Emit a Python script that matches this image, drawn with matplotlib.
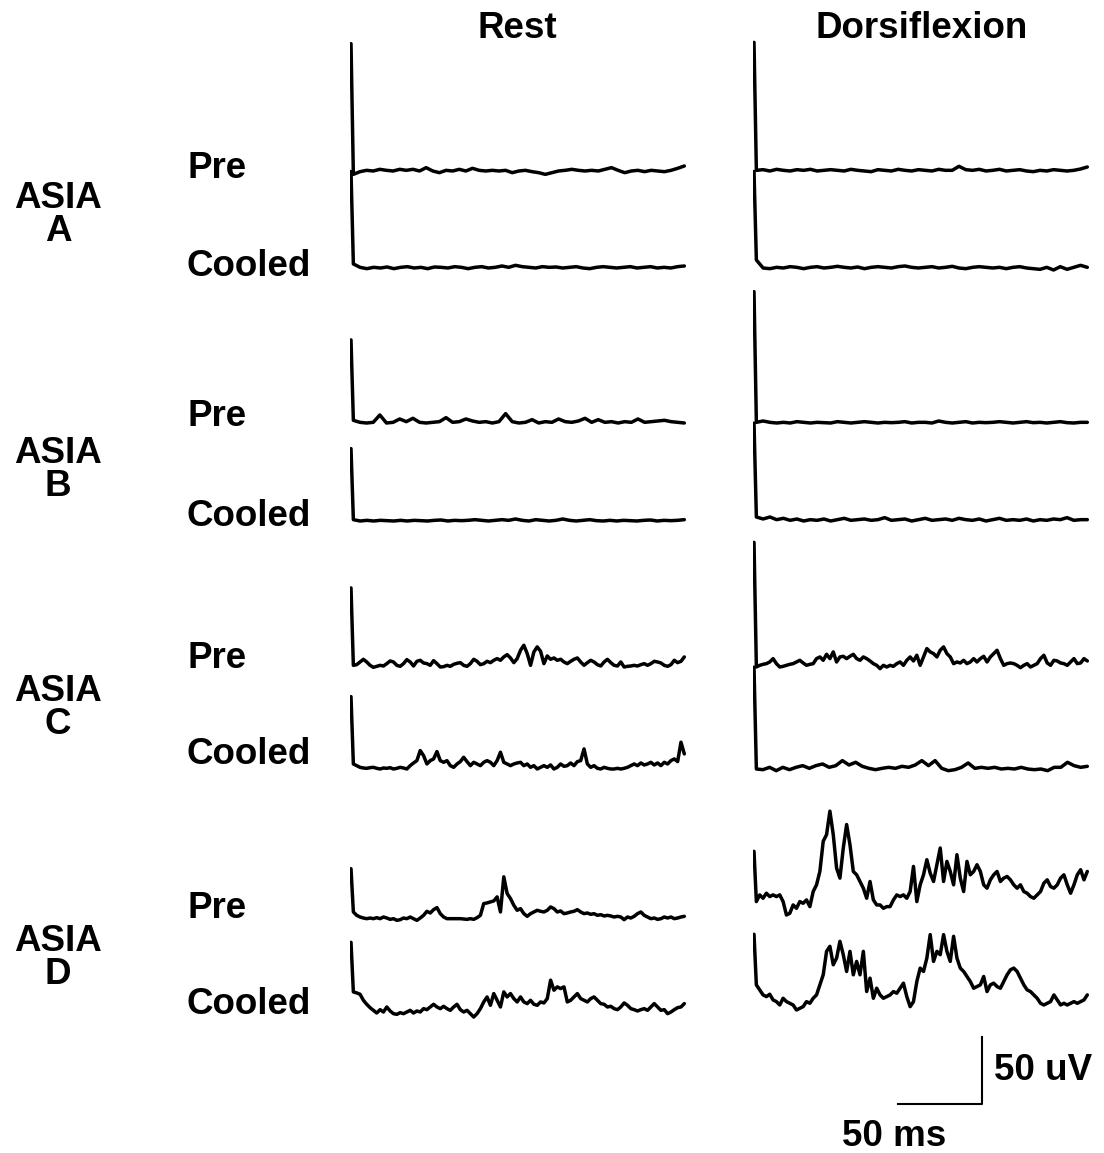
import numpy as np
import matplotlib
matplotlib.use("Agg")
import matplotlib.pyplot as plt

# EMG traces, amplitudes in uV above each trace's baseline.
# Each trace: stimulus artifact height, then samples spread over 2..199 ms.

rows = ["A", "B", "C", "D"]
columns = ["Rest", "Dorsiflexion"]
conditions = ["Pre", "Cooled"]

# artifact heights (uV), order: A pre, A cooled, B pre, B cooled, ... D cooled
rest_artifact = [95, 72, 62, 54, 59, 54, 36, 52]
dorsi_artifact = [96, 72, 98, 73, 93, 76, 49, 58]

rest_a_pre = [-2.5, -0.5, 0.5, 0, 1.25, 0.5, 0, 1.25, 0.5, 1.25, 0, 2.5, 0, -1.25, 0.5, 0,
              1.25, 0, 2, 0.5, 0, 0.5, 0, 0.5, -1.25, 0, 0.5, -0.5, -1.25, -2.5, -1.25, 0,
              0.5, 1.25, 0.5, 0, 0.5, 0, 1.25, 2.5, 0.5, -1.25, 0, 0.5, -0.5, 0.5, 0, -0.5,
              0.5, 2, 3.75]
rest_a_cooled = [3, 0.5, -0.5, 0.5, 0, 0.75, -0.5, 0.5, 1, 0, 0.5, -0.5, 0.75, 0.5, 0, 1,
                 0.5, -0.5, 0.5, 1, 0, 0.5, 1.5, 0.5, 2, 1, 0.5, 0, 1, 0.5, 0.75, 0, 0.5, 1,
                 0, -0.5, 0.5, 1, 0.5, 0, 0.5, 1, 0, 0.5, 1, 0, 0.5, 0, 1, 1.5]
dorsi_a_pre = [0.5, 1, 0, 1.25, 0.5, 0, 1, 0.5, 1.25, 0, 0.5, 1, 0.5, 0, 1.25, 0.5, 0, -0.5,
               1, 0.5, 0, 1.25, 0.5, 0, 1, 0.5, 0, 1.25, 0.5, 0.5, 3.5, 1, 0.5, 1.25, 0, 0.5,
               1.25, 0, 0.5, 1, 0, -0.5, 0.5, 0, 1, 0.5, 0, 0.5, 1.5, 3]
dorsi_a_cooled = [6, 0, -0.5, 0.5, 0, 1, 0.5, -0.5, 0.5, 1, 0, 0.5, 1.25, 0.5, 0, 0.75, -0.5,
                  0.5, 1, 0.5, 0, 1, 1.5, 0.5, 0, 0.5, 1, 0, 0.5, 1.25, 0, -0.5, 0.5, 1, 0.5,
                  0, 0.5, -0.5, 0.5, 1, 0, -0.5, -1, 0.5, -1.5, 1, -1, 0.5, 2, 0.5]

rest_b_pre = [2, 0.5, 0, 0.5, 6, 0, 0.5, 3, 1, 3.5, 0.5, 0, 0.5, 1, 4, 0.5, 1, 3, 1.5, 0.5,
              1, 0, 1, 7, 1, 0, 0.5, 2.5, 0, 1, 0.5, 3, 1, 0.5, 1.5, 3.5, 0.5, 2.5, 0.5, 1,
              0, 1, 0.5, 3, 0.5, 1, 1.5, 2, 1, 0.5, 0]
rest_b_cooled = [1, 0, 0.5, 0, 0.5, 0.25, 0, 0.5, 0, 0.5, 0.25, 0, 0.5, 0.75, 0, 0.5, 0.25,
                 0.5, 1, 0.5, 0, 0.5, 1, 0.5, 1.5, 0.5, 0, 1, 0.5, 0, 0.5, 1.5, 0.5, 0, 0.5,
                 1, 0.25, 0, 0.5, 0, 0.5, 0.25, 0, 0.5, 0.75, 0, 0.5, 0.25, 0.5, 1]
dorsi_b_pre = [0.5, 1.5, 0.5, 0, 0.5, 0, 1, 0.5, 0, 0.5, 0.25, 0, 1, 0.5, 0, 0.5, 1, 0.5, 0,
               0.5, 0.25, 0.5, 1, 0, 0.5, 0.5, 0, 1.5, 0.5, 0, 0.5, 1, 0, 0.5, 0.25, 0.5, 1,
               0.5, 0, 0.5, 1, 0.25, 0.5, 0, 0.5, 1, 0.25, 0, 0.5, 0.5]
dorsi_b_cooled = [3, 1.5, 3, 1, 2, 0.5, 1.5, 0, 1, 0.5, 1.5, 0, 1, 2, 0.5, 1, 1.5, 0.5, 1,
                  2.5, 0.5, 1, 1.5, 0, 1, 2, 0.5, 1, 1.5, 0.5, 2, 1, 0.5, 1.5, 0, 1, 2, 0.5,
                  1, 0.5, 1.5, 0, 1, 0.5, 1.5, 1, 2.5, 0.5, 1, 1]

rest_c_pre = [1.25, 1.75, 3.75, 5.75, 3.75, 1.25, -0.25, 0.5, 1.25, 0.75,
              2.5, 4.5, 3.75, 1.25, 0.5, 2.5, 5.5, 3.75, 0.75, 4.25,
              5, 3, 2.5, 1.25, 4.75, 2.5, 0, 0.25, 1.25, 0.5,
              2, 2.75, 3.25, 1.25, 0.5, 2.5, 5.75, 4.25, 1.75, 2.5,
              4.25, 3.25, 5, 6.25, 5, 7.5, 9.25, 6.75, 3.25, 6.25,
              12.5, 16.25, 10, 1.25, 11.25, 15, 11.75, 2.5, 8.25, 5.75,
              6.75, 5, 5.75, 3.75, 2.5, 4.25, 5.75, 6.75, 3.75, 1.25,
              3.25, 5, 3.75, 1.75, 0.75, 3.75, 5.75, 3.25, 1.25, 0.75,
              3.75, 0, 0.5, 0.75, 1.25, 0.75, 1.75, 2.5, 1.25, 2.5,
              4.25, 3.75, 3, 1.25, 0.5, 1.75, 5, 3.25, 4.25, 7.5]
rest_c_cooled = [3.75, 2.5, 1.25, 0.75, 0.5, 1, 1.25, 0.5, 0, 0.75,
                 0.5, 1, 0, 0.5, 1.25, 0.75, 0, 2.5, 4.5, 6.25,
                 13.75, 10, 3.75, 6.25, 7.5, 13, 6.25, 5, 6.25, 2.5,
                 1.25, 3.75, 5.5, 8.75, 5.5, 2.5, 5, 3.75, 2.5, 5,
                 6.25, 5, 2.5, 6.25, 12.5, 5, 3.75, 2.5, 3.75, 4.5,
                 5, 2.5, 3.75, 1.25, 2.5, 0, 1.25, 2.5, 1.25, 3,
                 0, 1.25, 3.75, 2, 2.5, 4.5, 2.5, 5.5, 6.25, 15,
                 3.75, 1.25, 2.5, 0.5, 0, 1.25, 0.5, 0, 0, 0.5,
                 0, 0.5, 1.25, 2.5, 3.75, 2.5, 4.5, 3, 3.75, 5,
                 3, 4.5, 2.5, 5, 3.75, 6.25, 7.5, 5.5, 20, 11.25]
dorsi_c_pre = [0, 1.25, 2, 2.5, 3.75, 6.25, 2.5, 0, 0.5, 1.25,
               2, 2.5, 3.75, 5, 3, 1.25, 2, 2.5, 6.25, 7.5,
               5, 9.5, 6.25, 11.25, 3.75, 7.5, 8, 6.25, 8, 9.5,
               6.25, 5, 7.5, 6.25, 4.5, 2.5, 1.25, -1.25, 1.25, 0,
               1.25, 0.5, 2.5, 3.75, 1.25, 5, 7.5, 4.5, 8.75, 1.25,
               7.5, 13.75, 11.25, 10, 7.5, 12.5, 15, 10, 7.5, 2.5,
               3.75, 3, 5, 2.5, 3.75, 6.25, 3.75, 6.25, 8, 3.75,
               7.5, 10, 12.5, 6.25, 1.25, 2.5, 3, 2.5, 1.25, -0.5,
               1.25, 2.5, 0, 1.25, 2.5, 6.25, 8.75, 3, 1.25, 5,
               4.5, 3, 2.5, 1.25, 3.75, 6.25, 2.5, 3, 6.25, 4.5]
dorsi_c_cooled = [0, -0.5, 1.25, -1.25, 1.25, -0.5, 1.25, 2.5, 0.5, 2.5, 3.75, 1.25, 2.5,
                  6.25, 3, 5, 2, 0.5, -0.5, 0.5, 1.25, 0.5, 2, 1.25, 3, 6.25, 2.5, 6.25,
                  0.5, -1.25, -0.5, 1.25, 4.5, 0.5, 1.25, 0.5, 1.25, 0, 0.5, 0, 1.25, 0,
                  -0.5, 0, -1.25, 1.25, 1.25, 5, 2.5, 1.25, 2]

rest_d_pre = [3.75, 1.25, 0, -0.75, -1.25, -0.75, -1.25, -0.5, -1.25, 0,
              -0.75, -1.75, -1.25, -2.5, -2, -0.75, -1.25, 0, -1.25, -2.5,
              -0.75, 1.25, 4.25, 3, 5.5, 7, 2.5, 0, -1.25, -1.25,
              -1.25, -1.25, -1.25, -1.5, -1.75, -1.25, -1.75, -0.5, 1.25, 10,
              10.5, 11.25, 12, 15, 3.75, 30, 17.5, 13.75, 8.75, 5,
              6.25, 2.5, 0.5, 2.5, 3.75, 5, 4.25, 3.75, 5, 7.5,
              6.25, 3.75, 4.5, 2.5, 3, 3.75, 4.25, 5.5, 3.75, 2.5,
              3, 2, 2.5, 1.25, 1.75, 0.75, 1.25, 0.75, 0, 0.5,
              0, -2, 0, -0.75, 0.5, 2.5, 3.75, 1.25, 0, -1.25,
              -0.75, -1.75, -1.25, 0, -0.75, 0, -1.25, -0.75, 0, 0.5]
rest_d_cooled = [15, 14.25, 13.25, 8.75, 5.75, 3.25, 1.25, -0.75, 1.75, 0,
                 3.75, 0.75, -1.25, -1.75, -0.5, -1.25, 0, 1.25, -0.75, 0.75,
                 0, 2.5, 1.75, 3.75, 5.75, 3.75, 2.5, 4.25, 2.5, 1.25,
                 3.75, 5.75, 1.75, 0, 1.25, -1.25, -3.75, -1.25, 2.5, 7.5,
                 11.25, 5, 13.75, 8.75, 3.75, 15, 11.25, 13.75, 10, 7.5,
                 11.25, 7.5, 6.25, 8.75, 5.75, 5, 7.5, 6.75, 10, 23.75,
                 16.25, 18.75, 17.5, 18.75, 7.5, 8.75, 11.25, 13.75, 10, 8.75,
                 7.5, 10, 11.25, 8.75, 6.25, 5.75, 3.75, 4.25, 2.5, 1.75,
                 3.75, 6.75, 5, 2.5, 1.75, 0.75, 1.75, 2.5, 1.25, 3.75,
                 6.25, 3.75, 1.25, 1.75, -1.25, 0, 1.75, 3.25, 3.75, 6.25]
dorsi_d_pre = [11.5, 16.5, 14, 17.75, 15.25, 16.5, 15.25, 16.5, 11.5, 1.5,
               2.75, 9, 6.5, 11.5, 10.25, 12.75, 7.75, 19, 24, 34,
               56.5, 61.5, 79, 61.5, 36.5, 29, 51.5, 69, 54, 34,
               31.5, 26.5, 21.5, 14, 26.5, 12.75, 9, 9, 6.5, 7.75,
               7.75, 12.75, 16.5, 15.25, 16.5, 14, 19, 37.75, 11.5, 24,
               31.5, 42.75, 32.75, 26.5, 39, 51.5, 26.5, 41.5, 34, 24,
               46.5, 29, 19, 41.5, 31.5, 34, 39, 34, 24, 21.5,
               27.75, 31.5, 34, 26.5, 29, 30.25, 27.75, 24, 21.5, 24,
               19, 17.75, 15.25, 14, 16.5, 19, 25.25, 27.75, 22.75, 21.5,
               24, 29, 31.5, 24, 17.75, 24, 31.5, 35.25, 27.75, 34]
dorsi_d_cooled = [20.25, 16.5, 12.75, 11.5, 13.25, 9, 7.75, 5.25, 10.25, 7.75,
                  6.5, 5.25, 1.5, 2.75, 4, 7.75, 6.5, 10.25, 12.75, 20.25,
                  27.75, 45.25, 49, 35.25, 40.25, 52.75, 42.75, 30.25, 45.25, 27.75,
                  37.75, 27.75, 45.25, 15.25, 25.25, 10.25, 17.75, 12.75, 10.25, 11.5,
                  12.75, 15.25, 14, 17.75, 21.5, 11.5, 4, 7.75, 22.75, 32.75,
                  30.25, 40.25, 57.75, 37.75, 45.25, 42.75, 57.75, 45.25, 37.75, 56.5,
                  40.25, 32.75, 30.25, 26.5, 22.75, 17.75, 19, 20.25, 26.5, 15.25,
                  20.25, 21.5, 19, 17.75, 22.75, 27.75, 31.5, 32.75, 30.25, 25.25,
                  20.25, 16.5, 15.25, 12.75, 10.25, 6.5, 5.25, 6.5, 7.75, 12.75,
                  9, 5.25, 6.5, 5.25, 6.5, 7.75, 6.5, 7.75, 9, 12.75]

rest_traces = [rest_a_pre, rest_a_cooled, rest_b_pre, rest_b_cooled,
               rest_c_pre, rest_c_cooled, rest_d_pre, rest_d_cooled]
dorsi_traces = [dorsi_a_pre, dorsi_a_cooled, dorsi_b_pre, dorsi_b_cooled,
                dorsi_c_pre, dorsi_c_cooled, dorsi_d_pre, dorsi_d_cooled]

# layout (pixels of the 1104x1153 canvas)
W, H = 1104, 1153
PX_PER_UV = 1.34
pre_base_px = [171, 423, 667, 917]
cooled_base_px = [268, 521, 769, 1012]
offsets = []
for p, c in zip(pre_base_px, cooled_base_px):
    offsets += [(H - p) / PX_PER_UV, (H - c) / PX_PER_UV]

fig = plt.figure(figsize=(W / 100, H / 100), dpi=100)
plt.rcParams['font.family'] = ['Liberation Sans', 'DejaVu Sans']
plt.rcParams['font.weight'] = 'bold'
FS = 26.5

def draw_column(left_px, traces, artifacts):
    ax = fig.add_axes([left_px / W, 0, 336 / W, 1])
    ax.set_xlim(0, 200)
    ax.set_ylim(0, H / PX_PER_UV)
    ax.axis('off')
    for body, art, off in zip(traces, artifacts, offsets):
        t = np.concatenate([[0.6], np.linspace(2, 199, len(body))])
        v = np.concatenate([[art], body])
        ax.plot(t, v + off, color='black', lw=2.5, solid_joinstyle='round',
                solid_capstyle='round')
    return ax

ax_rest = draw_column(350, rest_traces, rest_artifact)
ax_dorsi = draw_column(753, dorsi_traces, dorsi_artifact)

# scale bar: 50 ms x 50 uV
sb_x, sb_y = 136.3, (H - 1104) / PX_PER_UV
ax_dorsi.plot([sb_x - 50, sb_x, sb_x], [sb_y, sb_y, sb_y + 50], color='black',
              lw=1.5, clip_on=False)
ax_dorsi.text(sb_x + 7, sb_y + 25, "50 uV", fontsize=FS, va='center', ha='left')
ax_dorsi.text(sb_x - 52, sb_y - 24, "50 ms", fontsize=FS, va='center', ha='center')

def ftext(x, y, s, **kw):
    fig.text(x / W, 1 - y / H, s, fontsize=FS, va='center', **kw)

ftext(517, 29, columns[0], ha='center')
ftext(922, 29, columns[1], ha='center')

row_label_y = [215, 470, 708, 958]
pre_label_y = [168, 416, 658, 909]
cooled_label_y = [267, 517, 755, 1004]
for r, ly, py, cy in zip(rows, row_label_y, pre_label_y, cooled_label_y):
    ftext(58, ly, "ASIA\n" + r, ha='center', linespacing=0.95, multialignment='center')
    ftext(187, py, conditions[0], ha='left')
    ftext(187, cy, conditions[1], ha='left')

fig.savefig("out.png", dpi=100, facecolor='white')
